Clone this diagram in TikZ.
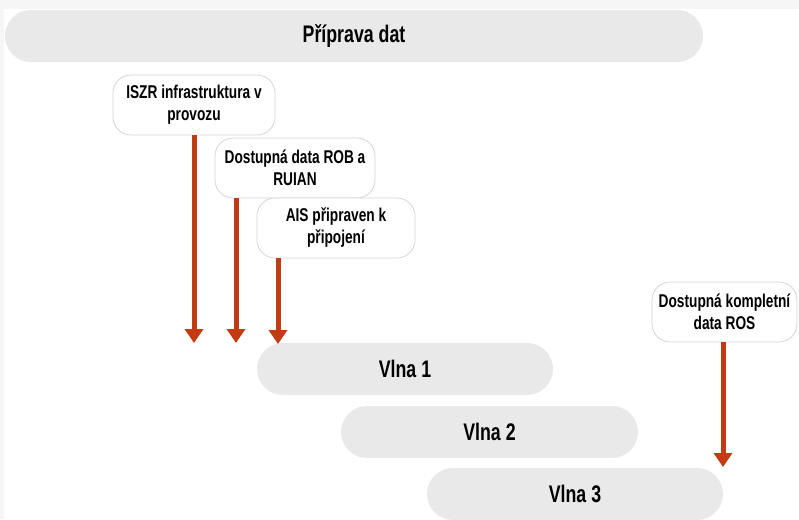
\documentclass[tikz,border=0pt]{standalone}
\usepackage{fontspec}
\setmainfont{Liberation Sans}[FakeStretch=0.74]
\usetikzlibrary{arrows.meta}
\definecolor{barfill}{HTML}{E9E9E9}
\definecolor{calloutline}{HTML}{D6D6D6}
\definecolor{arrowred}{RGB}{196,58,18}
\definecolor{framegrey}{HTML}{F6F6F6}
\begin{document}
\begin{tikzpicture}[x=1pt,y=-1pt,
  bar/.style={fill=barfill, draw=none, rounded corners=26pt, minimum height=52pt, inner sep=0pt, font=\bfseries\fontsize{24}{26}\selectfont},
  callout/.style={fill=white, draw=calloutline, line width=0.8pt, rounded corners=18pt, minimum height=60pt, align=center, inner sep=1pt, font=\bfseries\fontsize{18.5}{22}\selectfont},
  redarrow/.style={draw=arrowred, line width=5pt, -{Triangle[width=18pt,length=14pt]}}]
\useasboundingbox[fill=white] (0,0) rectangle (799,519);
\fill[framegrey] (0,0) rectangle (799,9);
\fill[framegrey] (0,0) rectangle (4,519);

\node[bar, minimum width=698pt] (prep) at (354,36) {Příprava dat};
\node[bar, minimum width=296pt] (v1) at (405,369) {Vlna 1};
\node[bar, minimum width=297pt] (v2) at (489.5,432) {Vlna 2};
\node[bar, minimum width=296pt] (v3) at (575,494) {Vlna 3};

\node[callout, minimum width=162pt] (iszr) at (194,105) {ISZR infrastruktura v\\provozu};
\node[callout, minimum width=160pt] (rob) at (295,168) {Dostupná data ROB a\\RUIAN};
\node[callout, minimum width=158pt] (ais) at (336,228) {AIS připraven k\\připojení};
\node[callout, minimum width=145pt] (ros) at (724.5,312) {Dostupná kompletní\\data ROS};

\coordinate (e1) at (194,343);
\coordinate (e2) at (236,343);
\coordinate (e3) at (278,344);
\coordinate (e4) at (723,467);

\draw[redarrow] (e1 |- iszr.south) -- (e1);
\draw[redarrow] (e2 |- rob.south) -- (e2);
\draw[redarrow] (e3 |- ais.south) -- (e3);
\draw[redarrow] (e4 |- ros.south) -- (e4);
\end{tikzpicture}
\end{document}
